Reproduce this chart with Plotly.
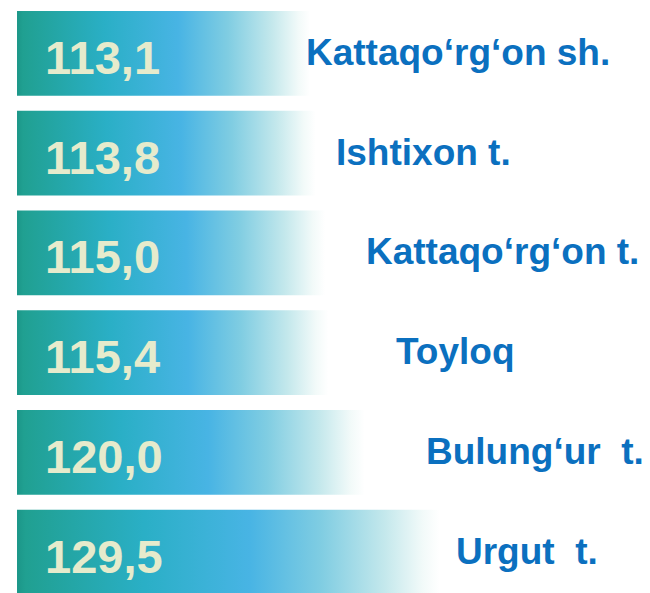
import plotly.graph_objects as go

# ---- data ----
districts = ["Kattaqo‘rg‘on sh.", "Ishtixon t.", "Kattaqo‘rg‘on t.",
             "Toyloq", "Bulung‘ur  t.", "Urgut  t."]
values = [113.1, 113.8, 115.0, 115.4, 120.0, 129.5]
value_labels = ["113,1", "113,8", "115,0", "115,4", "120,0", "129,5"]

# ---- styling ----
BASE = 76.0
HALF = 0.425
bar_scale = [
    [0.00, "#1c9688"],
    [0.02, "#20a091"],
    [0.30, "#2aafc6"],
    [0.55, "#48b4e4"],
    [0.72, "#80cde2"],
    [0.87, "#c4e8ec"],
    [0.96, "#f2faf9"],
    [1.00, "#ffffff"],
]
NUM_COLOR = "#e6ebcc"
LABEL_COLOR = "#0b70bf"
FONT = "Liberation Sans, Arial, sans-serif"
W, H = 650, 593

fig = go.Figure()

for i, v in enumerate(values):
    fig.add_trace(go.Scatter(
        x=[BASE, v, v, BASE, BASE],
        y=[i - HALF, i - HALF, i + HALF, i + HALF, i - HALF],
        mode="lines",
        line=dict(width=0),
        fill="toself",
        fillgradient=dict(type="horizontal", colorscale=bar_scale),
        hoverinfo="skip",
        showlegend=False,
    ))
    fig.add_annotation(
        x=BASE, y=i, xref="x", yref="y",
        text=value_labels[i], showarrow=False,
        xanchor="left", yanchor="middle", xshift=26, yshift=-4,
        font=dict(family=FONT, size=47, color=NUM_COLOR, weight="bold"),
    )
    # district names stagger diagonally to the right of the bars
    fig.add_annotation(
        x=(296 + 30 * i) / W, y=i, xref="paper", yref="y",
        text=districts[i], showarrow=False,
        xanchor="left", yanchor="middle", yshift=1,
        font=dict(family=FONT, size=37, color=LABEL_COLOR, weight="bold"),
    )

fig.update_layout(
    width=W, height=H,
    margin=dict(l=0, r=0, t=0, b=0),
    paper_bgcolor="white", plot_bgcolor="white",
    xaxis=dict(range=[74.86, 157.14], visible=False, fixedrange=True),
    yaxis=dict(range=[5.49, -0.456], visible=False, fixedrange=True),
    showlegend=False,
)

fig.write_html("out.html", config={"displayModeBar": False})
